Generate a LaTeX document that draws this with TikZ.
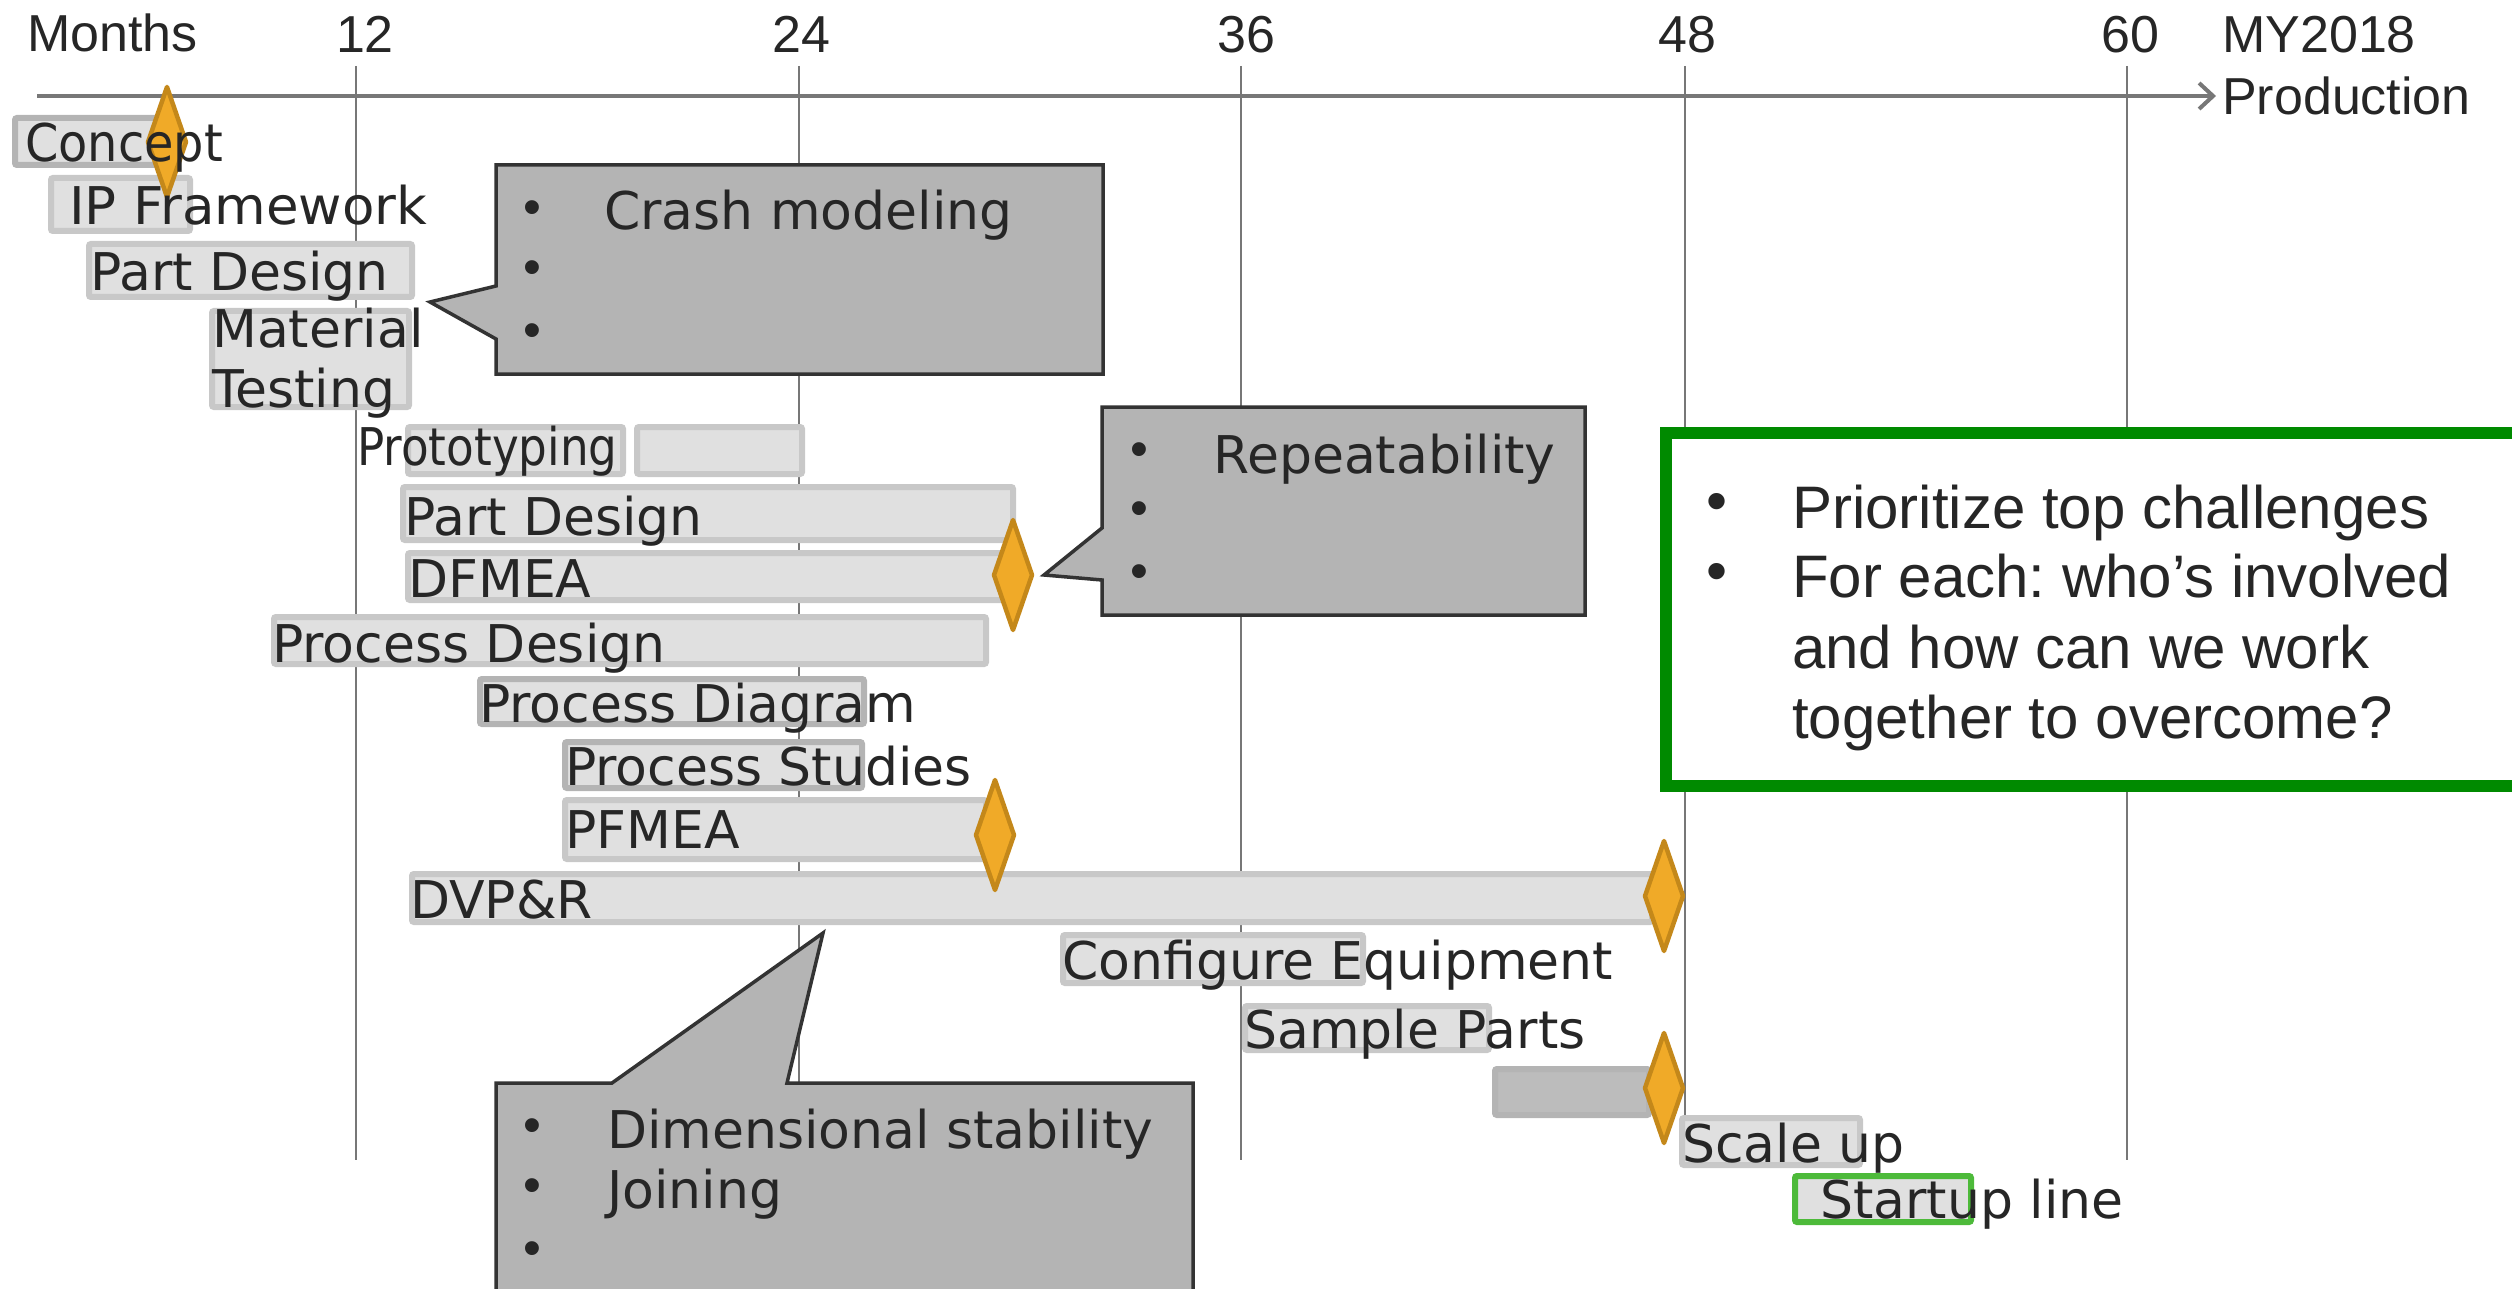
\documentclass[tikz,border=0pt]{standalone}
\usepackage{fontspec}
\setmainfont{DejaVu Sans}
\newfontfamily\arialfont{Liberation Sans}
\usetikzlibrary{arrows.meta}
\frenchspacing

\definecolor{gridgray}{HTML}{777777}
\definecolor{barfill}{HTML}{E0E0E0}
\definecolor{barline}{HTML}{C8C8C8}
\definecolor{bardark}{HTML}{B4B4B4}
\definecolor{msfill}{HTML}{F0AA28}
\definecolor{msline}{HTML}{C4881A}
\definecolor{callfill}{HTML}{B4B4B4}
\definecolor{callline}{HTML}{333333}
\definecolor{txt}{HTML}{262626}
\definecolor{boxgreen}{HTML}{008A00}
\definecolor{startgreen}{HTML}{4DBA3A}

\begin{document}
\begin{tikzpicture}[x=1pt,y=-1pt,
  gridline/.style={draw=gridgray, line width=2.5pt},
  axisline/.style={draw=gridgray, line width=4pt, -{Straight Barb[length=14pt,width=26pt,line width=4pt]}},
  bar/.style={fill=barfill, draw=barline, line width=6pt, rounded corners=2pt},
  bardk/.style={bar, draw=bardark},
  barsolid/.style={bar, fill=bardark!60!barline, draw=bardark},
  barstart/.style={bar, draw=startgreen},
  ms/.style={fill=msfill, draw=msline, line width=4.5pt, line join=round},
  milestone/.pic={\draw[ms] (0,-55) -- (19,0) -- (0,55) -- (-19,0) -- cycle;},
  lbl/.style={anchor=base west, inner sep=0pt, text=txt, font=\fontsize{52}{60}\selectfont},
  axlbl/.style={anchor=base, inner sep=0pt, text=txt, font=\arialfont\fontsize{52}{60}\selectfont},
  axlblw/.style={axlbl, anchor=base west},
  callout/.style={fill=callfill, draw=callline, line width=3.5pt, line join=miter},
  bul/.style={anchor=center, inner sep=0pt, text=txt, font=\arialfont\fontsize{51}{60}\selectfont},
  gbul/.style={bul, font=\arialfont\fontsize{60}{70}\selectfont},
  gtxt/.style={anchor=base west, inner sep=0pt, text=txt, font=\arialfont\fontsize{60}{70}\selectfont},
  greenbox/.style={fill=white, draw=boxgreen, line width=12pt},
]
\useasboundingbox (0,0) rectangle (2512,1289);
\clip (0,0) rectangle (2512,1289);

% month grid
\foreach \gx in {356, 799, 1241, 1685, 2127}{
  \draw[gridline] (\gx,66) -- (\gx,1160);
}

% time axis
\coordinate (axstart) at (37,96);
\coordinate (axend) at (2216,96);
\draw[axisline] (axstart) -- (axend);

\node[axlblw] (months) at (27,52) {Months};
\node[axlbl] (m12) at (365,53) {12};
\node[axlbl] (m24) at (801,53) {24};
\node[axlbl] (m36) at (1246,53) {36};
\node[axlbl] (m48) at (1687,53) {48};
\node[axlbl] (m60) at (2130,53) {60};
\node[axlblw] (my) at (2222,53) {MY2018};
\node[axlblw] (prod) at (2222,115) {Production};

% task bars
\draw[bardk] (15,118) rectangle (162,165);
\draw[bar] (51,178) rectangle (190,231);
\draw[bar] (89,244) rectangle (412,297);
\draw[bar] (212,311) rectangle (409,407);
\draw[bar] (408,427) rectangle (623,474);
\draw[bar] (637,427) rectangle (802,474);
\draw[bar] (403,487) rectangle (1013,540);
\draw[bar] (408,553) rectangle (1005,600);
\draw[bar] (274,617) rectangle (986,664);
\draw[bardk] (480,679) rectangle (864,724);
\draw[bardk] (565,742) rectangle (862,788);
\draw[bar] (565,800) rectangle (986,859);
\draw[bar] (412,874) rectangle (1652,922);
\draw[bar] (1063,935) rectangle (1363,983);
\draw[bar] (1245,1006) rectangle (1489,1050);
\draw[barsolid] (1495,1069) rectangle (1649,1115);
\draw[bar] (1682,1118) rectangle (1860,1165);
\draw[barstart] (1795,1176) rectangle (1971,1222);

% milestones
\pic at (167,142) {milestone};
\pic at (1013,575) {milestone};
\pic at (995,835) {milestone};
\pic at (1664,896) {milestone};
\pic at (1664,1088) {milestone};

% task labels
\node[lbl] (tconcept) at (25,162) {\scalebox{0.92}[1]{Concept}};
\node[lbl] (tip) at (69,225) {\scalebox{1.02}[1]{IP Framework}};
\node[lbl] (tpart) at (90,291) {Part Design};
\node[lbl] (tmat) at (212,348) {Material};
\node[lbl] (ttest) at (212,407) {Testing};
\node[lbl] (tproto) at (357,465) {\scalebox{0.87}[1]{Prototyping}};
\node[lbl] (tpart2) at (404,535) {Part Design};
\node[lbl] (tdfmea) at (408,597) {DFMEA};
\node[lbl] (tpdes) at (272,662) {Process Design};
\node[lbl] (tpdia) at (479,722) {Process Diagram};
\node[lbl] (tpstu) at (565,785) {Process Studies};
\node[lbl] (tpfmea) at (565,848) {PFMEA};
\node[lbl] (tdvp) at (410,918) {DVP\&R};
\node[lbl] (tconf) at (1062,979) {Configure Equipment};
\node[lbl] (tsamp) at (1244,1048) {Sample Parts};
\node[lbl] (tscale) at (1682,1162) {Scale up};
\node[lbl] (tstart) at (1820,1218) {Startup line};

% challenge callouts
\draw[callout] (496,165) -- (1103,165) -- (1103,374) -- (496,374) -- (496,339)
  -- (430,302) -- (496,286) -- cycle;
\node[bul] (cb1) at (532,213) {•};
\node[bul] (cb2) at (532,273) {•};
\node[bul] (cb3) at (532,336) {•};
\node[lbl] (crash) at (604,230) {Crash modeling};

\draw[callout] (1102,407) -- (1585,407) -- (1585,615) -- (1102,615) -- (1102,580)
  -- (1044,575) -- (1102,528) -- cycle;
\node[bul] (rb1) at (1139,455) {•};
\node[bul] (rb2) at (1139,514) {•};
\node[bul] (rb3) at (1139,577) {•};
\node[lbl] (repeat) at (1213,473) {Repeatability};

\draw[callout] (496,1310) -- (496,1083) -- (612,1083) -- (823,933) -- (787,1083)
  -- (1193,1083) -- (1193,1310);
\node[bul] (db1) at (532,1131) {•};
\node[bul] (db2) at (532,1191) {•};
\node[bul] (db3) at (532,1254) {•};
\node[lbl] (dimstab) at (607,1148) {Dimensional stability};
\node[lbl] (joining) at (607,1208) {Joining};

% next steps box
\draw[greenbox] (1666,433) rectangle (2530,786);
\node[gbul] (gb1) at (1717,507) {•};
\node[gbul] (gb2) at (1717,577) {•};
\node[gtxt] (g1) at (1792,528) {Prioritize top challenges};
\node[gtxt] (g2) at (1792,597) {For each: who’s involved};
\node[gtxt] (g3) at (1792,668) {and how can we work};
\node[gtxt] (g4) at (1792,738) {together to overcome?};
\end{tikzpicture}
\end{document}
